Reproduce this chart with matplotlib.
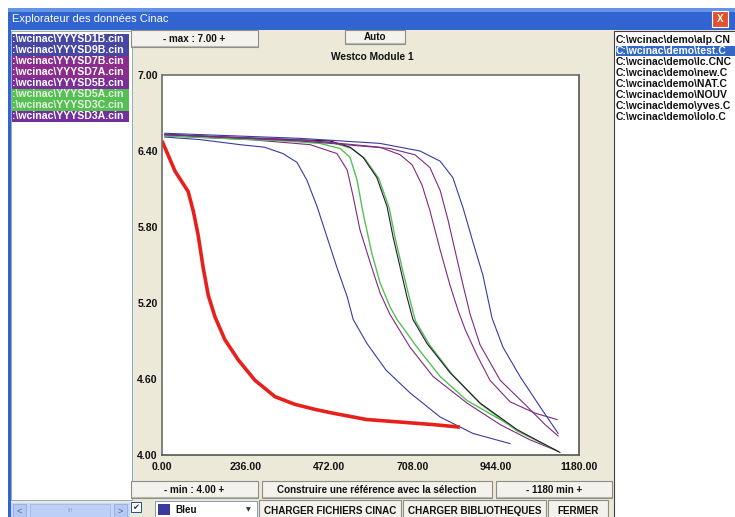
import matplotlib
matplotlib.use('Agg')
import matplotlib.pyplot as plt
from matplotlib.patches import Rectangle

W, H = 735, 517

# ── data (minutes, volts) ───────────────────────────────────────────────────────

ref_x = [0, 37, 74, 89, 102, 117, 131, 150, 178, 216, 263, 320, 376, 433, 484, 579, 674, 768, 843]
ref_y = [6.48, 6.24, 6.08, 5.92, 5.74, 5.47, 5.26, 5.09, 4.91, 4.75, 4.59, 4.46, 4.40, 4.36, 4.33, 4.28, 4.26, 4.24, 4.22]

sd1b_x = [8, 108, 221, 290, 342, 382, 410, 439, 467, 495, 524, 541, 580, 634, 702, 787, 880, 985]
sd1b_y = [6.51, 6.49, 6.45, 6.43, 6.38, 6.31, 6.17, 5.96, 5.72, 5.48, 5.25, 5.07, 4.88, 4.67, 4.49, 4.30, 4.17, 4.09]

sd9b_x = [8, 390, 617, 730, 787, 823, 852, 880, 908, 934, 965, 1013, 1070, 1121]
sd9b_y = [6.54, 6.50, 6.46, 6.40, 6.32, 6.19, 5.95, 5.68, 5.42, 5.08, 4.85, 4.62, 4.38, 4.17]

sd7b_x = [8, 249, 419, 495, 524, 541, 560, 589, 617, 645, 702, 767, 863, 957, 1041, 1112]
sd7b_y = [6.52, 6.49, 6.45, 6.38, 6.25, 6.04, 5.78, 5.52, 5.28, 5.11, 4.85, 4.62, 4.41, 4.24, 4.12, 4.04]

sd7a_x = [8, 249, 475, 532, 569, 608, 637, 654, 674, 693, 710, 750, 815, 900, 1005, 1126]
sd7a_y = [6.53, 6.50, 6.48, 6.43, 6.35, 6.19, 5.96, 5.72, 5.48, 5.25, 5.07, 4.88, 4.65, 4.41, 4.20, 4.02]

sd5b_x = [8, 390, 617, 674, 708, 736, 758, 787, 815, 838, 858, 891, 928, 985, 1056, 1118]
sd5b_y = [6.53, 6.49, 6.43, 6.37, 6.29, 6.13, 5.93, 5.62, 5.34, 5.14, 4.99, 4.79, 4.59, 4.42, 4.33, 4.28]

sd3a_x = [8, 390, 645, 716, 758, 787, 809, 832, 852, 872, 900, 957, 1027, 1084, 1121]
sd3a_y = [6.53, 6.48, 6.42, 6.37, 6.27, 6.09, 5.86, 5.58, 5.34, 5.11, 4.87, 4.59, 4.40, 4.24, 4.15]

sd5a_x = [8, 249, 447, 504, 532, 552, 569, 594, 617, 645, 665, 722, 787, 863, 976]
sd5a_y = [6.53, 6.50, 6.46, 6.42, 6.35, 6.17, 5.91, 5.59, 5.36, 5.17, 5.07, 4.85, 4.62, 4.43, 4.25]

sd3c_x = [8, 249, 478, 537, 574, 614, 643, 660, 680, 700, 717, 757, 820, 903, 1005, 1120]
sd3c_y = [6.52, 6.49, 6.47, 6.42, 6.34, 6.18, 5.95, 5.71, 5.47, 5.24, 5.06, 4.87, 4.64, 4.40, 4.19, 4.03]

x_ticks = [0, 236, 472, 708, 944, 1180]
y_ticks = [4.0, 4.6, 5.2, 5.8, 6.4, 7.0]

left_files = [':\\wcinac\\YYYSD1B.cin', ':\\wcinac\\YYYSD9B.cin', ':\\wcinac\\YYYSD7B.cin',
              ':\\wcinac\\YYYSD7A.cin', ':\\wcinac\\YYYSD5B.cin', ':\\wcinac\\YYYSD5A.cin',
              ':\\wcinac\\YYYSD3C.cin', ':\\wcinac\\YYYSD3A.cin']
left_colors = ['#4746a2', '#4746a2', '#8c2d8e', '#8c2d8e', '#7a2e98', '#55bf55', '#55bf55', '#732f9c']
left_text = ['white', 'white', 'white', 'white', 'white', '#e4f2dc', '#e4f2dc', 'white']

# the list box cuts the names off on the right, as in the screenshot
right_files = ['C:\\wcinac\\demo\\alp.CN', 'C:\\wcinac\\demo\\test.C', 'C:\\wcinac\\demo\\lc.CNC',
               'C:\\wcinac\\demo\\new.C', 'C:\\wcinac\\demo\\NAT.C', 'C:\\wcinac\\demo\\NOUV',
               'C:\\wcinac\\demo\\yves.C', 'C:\\wcinac\\demo\\lolo.C']
right_selected = 1

BLUE = '#3a3aa0'
PURPLE = '#7e2a80'
GREEN = '#55c055'
DARK = '#2a1630'
RED = '#e8201c'

# ────────────────────────────────────────────────────────────────────────────────

plt.rcParams['font.family'] = ['Liberation Sans', 'DejaVu Sans']

fig = plt.figure(figsize=(W / 100, H / 100), dpi=100)
fig.patch.set_facecolor('white')

ui = fig.add_axes([0, 0, 1, 1])
ui.set_xlim(0, W)
ui.set_ylim(H, 0)
ui.axis('off')

FS = 7.1


def rect(x0, y0, x1, y1, fc, ec='none', lw=0.8, z=1):
    ui.add_patch(Rectangle((x0, y0), x1 - x0, y1 - y0, facecolor=fc, edgecolor=ec, lw=lw, zorder=z))


def button(x0, y0, x1, y1, label):
    rect(x0, y0, x1, y1, '#f3f2ec', '#8d8d86', z=2)
    ui.plot([x0 + 1, x1 - 1], [y1 - 1, y1 - 1], color='#b8b7ae', lw=0.8, zorder=3)
    ui.text((x0 + x1) / 2, (y0 + y1) / 2 + 0.5, label, ha='center', va='center',
            fontsize=FS, fontweight='bold', color='#111111', zorder=4)


# window frame, title bar, body
rect(8, 8, W, H, '#3164d0')
rect(8, 8, W, 12, '#6593e6')
rect(11, 30, W, H, '#ece9d8')
ui.text(12, 19.5, 'Explorateur des données Cinac', ha='left', va='center',
        fontsize=8, color='white')
rect(712, 11, 728, 27, '#e0532e', 'white', lw=0.8, z=2)
ui.text(720, 19.5, 'X', ha='center', va='center', fontsize=7, color='white',
        fontweight='bold', zorder=3)

# left list of files
rect(11, 31, 132, 500, 'white', '#7f9db9', lw=0.6)
for i, (name, c, tc) in enumerate(zip(left_files, left_colors, left_text)):
    y0 = 33.5 + 11 * i
    rect(12, y0, 129, y0 + 11, c, z=2)
    ui.text(12, y0 + 5.8, name, ha='left', va='center', fontsize=7.6,
            fontweight='bold', color=tc, zorder=3)

# left scrollbar
rect(11, 503, 130, H, '#c5d5f7', z=2)
rect(13, 504, 26, H, '#b4c8f4', '#8aa6de', lw=0.5, z=3)
rect(114, 504, 127, H, '#b4c8f4', '#8aa6de', lw=0.5, z=3)
rect(30, 504, 110, H, '#bcd0f6', '#9cb4e6', lw=0.5, z=3)
ui.text(19.5, 511, '<', ha='center', va='center', fontsize=6.5, color='#4d6185', zorder=4)
ui.text(120.5, 511, '>', ha='center', va='center', fontsize=6.5, color='#4d6185', zorder=4)
ui.text(70, 511, 'III', ha='center', va='center', fontsize=4.5, color='#8aa2d8', zorder=4)

# right list of files
rect(614, 31, W + 2, H + 2, 'white', '#404040', lw=0.8)
for i, name in enumerate(right_files):
    y0 = 34.5 + 11 * i
    tc = '#111111'
    if i == right_selected:
        rect(616, y0, W, y0 + 10.5, '#3169c4', z=2)
        tc = 'white'
    ui.text(616, y0 + 5.6, name, ha='left', va='center', fontsize=7.5,
            fontweight='bold', color=tc, zorder=3)

# top controls
button(131, 30, 258, 47, '- max : 7.00 +')
button(345, 30, 405, 44, 'Auto')
ui.text(372, 57.5, 'Westco Module 1', ha='center', va='center', fontsize=7.3,
        fontweight='bold', color='#111111')

# bottom controls
button(131, 481, 258, 498, '- min : 4.00 +')
button(262, 481, 492, 498, 'Construire une référence avec la sélection')
button(496, 481, 612, 498, '- 1180 min +')

rect(131, 502, 141, 512, 'white', '#1c5180', lw=0.7, z=2)
ui.text(136, 507.5, '✔', ha='center', va='center', fontsize=6, color='#333333',
        family='DejaVu Sans', zorder=3)
rect(155, 501, 257, H + 2, 'white', '#7f9db9', lw=0.7, z=2)
rect(158, 504, 170, 515, '#3a3aa0', z=3)
ui.text(175, 510, 'Bleu', ha='left', va='center', fontsize=FS, fontweight='bold',
        color='#111111', zorder=3)
ui.text(248, 510, '▼', ha='center', va='center', fontsize=4.5, color='#333333',
        family='DejaVu Sans', zorder=3)
button(259, 500, 401, H + 3, 'CHARGER FICHIERS CINAC')
button(403, 500, 546, H + 3, 'CHARGER BIBLIOTHEQUES')
button(548, 500, 608, H + 3, 'FERMER')

# ── the chart itself ───────────────────────────────────────────────────────────

ax = fig.add_axes([162 / W, 1 - 455 / H, (579 - 162) / W, (455 - 75) / H])
ax.set_facecolor('white')

thin = 0.8
ax.plot(sd1b_x, sd1b_y, color=BLUE, lw=thin)
ax.plot(sd7b_x, sd7b_y, color=PURPLE, lw=thin)
ax.plot(sd5a_x, sd5a_y, color=GREEN, lw=thin + 0.2)
ax.plot(sd3c_x, sd3c_y, color=GREEN, lw=thin + 0.2)
ax.plot(sd7a_x, sd7a_y, color=DARK, lw=thin)
ax.plot(sd5b_x, sd5b_y, color=PURPLE, lw=thin)
ax.plot(sd3a_x, sd3a_y, color=PURPLE, lw=thin)
ax.plot(sd9b_x, sd9b_y, color=BLUE, lw=thin)
ax.plot(ref_x, ref_y, color=RED, lw=2.6, solid_capstyle='butt')

ax.set_xlim(0, 1180)
ax.set_ylim(4, 7)
ax.set_xticks(x_ticks)
ax.set_xticklabels(['%.2f' % v for v in x_ticks])
ax.set_yticks(y_ticks)
ax.set_yticklabels(['%.2f' % v for v in y_ticks])
ax.tick_params(length=0, labelsize=7.6, colors='#111111')
ax.tick_params(axis='x', pad=5)
ax.tick_params(axis='y', pad=3)
for lab in ax.get_xticklabels() + ax.get_yticklabels():
    lab.set_fontweight('bold')
for side in ['left', 'top']:
    ax.spines[side].set_color('#6e6e68')
for side in ['right', 'bottom']:
    ax.spines[side].set_color('#55554f')
for s in ax.spines.values():
    s.set_linewidth(1.2)

fig.savefig('out.png', dpi=100)
